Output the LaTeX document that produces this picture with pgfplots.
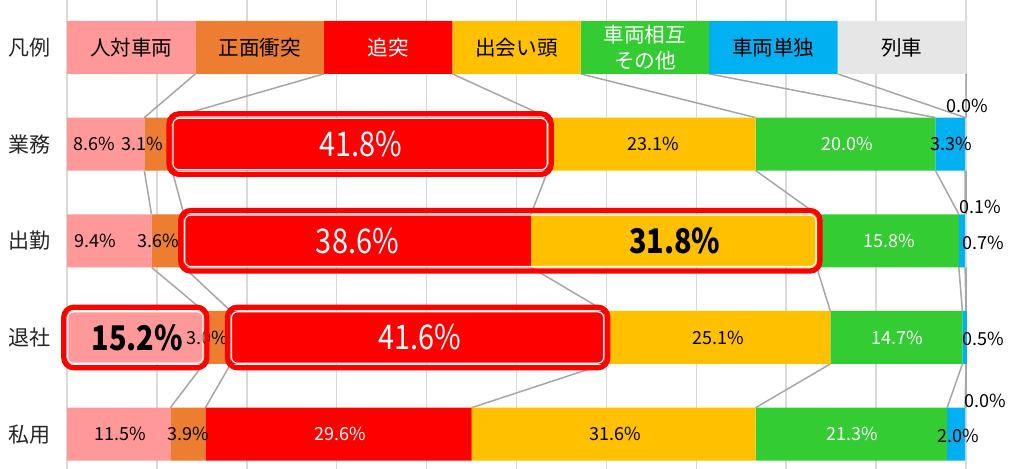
\documentclass[border=0pt]{standalone}
\usepackage{fontspec}
\setmainfont{Noto Sans CJK JP}
\usepackage{pgfplots}
\pgfplotsset{compat=1.18}
\definecolor{cPink}{HTML}{FF9999}
\definecolor{cOrange}{HTML}{ED7D31}
\definecolor{cRed}{HTML}{FF0000}
\definecolor{cYellow}{HTML}{FFC000}
\definecolor{cGreen}{HTML}{33CC33}
\definecolor{cBlue}{HTML}{00B0F0}
\definecolor{cGray}{HTML}{E6E6E6}
\definecolor{cGrid}{HTML}{D9D9D9}
\definecolor{cConn}{HTML}{A6A6A6}
\pgfplotsset{base/.style={
  at={(33.5pt,0pt)}, anchor=south west,
  scale only axis, width=449.5pt, height=234.5pt,
  xmin=0, xmax=100, ymin=-0.49, ymax=4.36, y dir=reverse,
  xtick={0,10,...,100}, xticklabels={}, ytick={0,1,2,3,4},
  major tick length=0pt, axis line style={draw=none},
  clip=false,
}}
\newcommand{\labnormal}{\fontsize{9}{10}\selectfont}
\newcommand{\lablarge}{\fontsize{17}{19}\selectfont}
\tikzset{big/.style={font=\lablarge, inner sep=0pt, xscale=0.85}}
\begin{document}
\begin{tikzpicture}
% background: grid, tick labels and connector lines
\begin{axis}[base,
  xmajorgrids, grid style={cGrid, line width=0.75pt},
  yticklabels={凡例,業務,出勤,退社,私用},
  yticklabel style={font=\fontsize{10.5}{12}\selectfont, text=black!85, anchor=center, xshift=-18.5pt},
  unbounded coords=jump,
]
\addplot[cConn, line width=0.75pt] coordinates {
 (14.2857,0.274) (8.6,0.726) (nan,nan)
 (28.5714,0.274) (11.7,0.726) (nan,nan)
 (42.8571,0.274) (53.5,0.726) (nan,nan)
 (57.1429,0.274) (76.6,0.726) (nan,nan)
 (71.4286,0.274) (96.6,0.726) (nan,nan)
 (85.7143,0.274) (99.9,0.726) (nan,nan)
 (100,0.274) (100,0.726)};
\addplot[cConn, line width=0.75pt] coordinates {
 (8.6,1.274) (9.4,1.726) (nan,nan)
 (11.7,1.274) (13.0,1.726) (nan,nan)
 (53.5,1.274) (51.6,1.726) (nan,nan)
 (76.6,1.274) (83.4,1.726) (nan,nan)
 (96.6,1.274) (99.2,1.726) (nan,nan)
 (99.9,1.274) (99.9,1.726) (nan,nan)
 (100,1.274) (100,1.726)};
\addplot[cConn, line width=0.75pt] coordinates {
 (9.4,2.274) (15.2,2.726) (nan,nan)
 (13.0,2.274) (18.2,2.726) (nan,nan)
 (51.6,2.274) (59.8,2.726) (nan,nan)
 (83.4,2.274) (84.9,2.726) (nan,nan)
 (99.2,2.274) (99.6,2.726) (nan,nan)
 (99.9,2.274) (100,2.726) (nan,nan)
 (100,2.274) (100,2.726)};
\addplot[cConn, line width=0.75pt] coordinates {
 (15.2,3.274) (11.5,3.726) (nan,nan)
 (18.2,3.274) (15.4,3.726) (nan,nan)
 (59.8,3.274) (45.0,3.726) (nan,nan)
 (84.9,3.274) (76.6,3.726) (nan,nan)
 (99.6,3.274) (97.9,3.726) (nan,nan)
 (100,3.274) (99.9,3.726) (nan,nan)
 (100,3.274) (100,3.726)};
\end{axis}
% bars
\begin{axis}[base, yticklabels={},
  xbar stacked, bar width=26.5pt,
]
\addplot[fill=cPink, draw=none] coordinates {(14.2857,0) (8.6,1) (9.4,2) (15.2,3) (11.5,4)};
\addplot[fill=cOrange, draw=none] coordinates {(14.2857,0) (3.1,1) (3.6,2) (3.0,3) (3.9,4)};
\addplot[fill=cRed, draw=none] coordinates {(14.2857,0) (41.8,1) (38.6,2) (41.6,3) (29.6,4)};
\addplot[fill=cYellow, draw=none] coordinates {(14.2857,0) (23.1,1) (31.8,2) (25.1,3) (31.6,4)};
\addplot[fill=cGreen, draw=none] coordinates {(14.2857,0) (20.0,1) (15.8,2) (14.7,3) (21.3,4)};
\addplot[fill=cBlue, draw=none] coordinates {(14.2857,0) (3.3,1) (0.7,2) (0.5,3) (2.0,4)};
\addplot[fill=cGray, draw=none] coordinates {(14.2857,0) (0.0,1) (0.1,2) (0.0,3) (0.0,4)};
\end{axis}
% labels and highlight boxes
\begin{axis}[base, yticklabels={}]
\node[text=black, font=\fontsize{10.3}{13}\selectfont, inner sep=0pt] at (axis cs:7.1429,0) {人対車両};
\node[text=black, font=\fontsize{10.3}{13}\selectfont, inner sep=0pt] at (axis cs:21.4286,0) {正面衝突};
\node[text=white, font=\fontsize{10.3}{13}\selectfont, inner sep=0pt] at (axis cs:35.7143,0) {追突};
\node[text=black, font=\fontsize{10.3}{13}\selectfont, inner sep=0pt] at (axis cs:50,0) {出会い頭};
\node[text=white, font=\fontsize{10.3}{13}\selectfont, inner sep=0pt, align=center] at (axis cs:64.2857,0) {車両相互\\その他};
\node[text=black, font=\fontsize{10.3}{13}\selectfont, inner sep=0pt] at (axis cs:78.5714,0) {車両単独};
\node[text=black, font=\fontsize{10.3}{13}\selectfont, inner sep=0pt] at (axis cs:92.8571,0) {列車};
% 業務
\node[text=black, font=\labnormal, inner sep=0pt] at (axis cs:3.0,1) {8.6\%};
\node[text=black, font=\labnormal, inner sep=0pt] at (axis cs:8.34,1) {3.1\%};
\node[text=white, big] at (axis cs:32.7,1) {41.8\%};
\node[text=black, font=\labnormal, inner sep=0pt] at (axis cs:65.2,1) {23.1\%};
\node[text=white, font=\labnormal, inner sep=0pt] at (axis cs:86.8,1) {20.0\%};
\node[text=black, font=\labnormal, inner sep=0pt] at (axis cs:98.4,1) {3.3\%};
\node[text=black, font=\labnormal, inner sep=0pt] at (axis cs:100.1,0.605) {0.0\%};
% 出勤
\node[text=black, font=\labnormal, inner sep=0pt] at (axis cs:3.1,2) {9.4\%};
\node[text=black, font=\labnormal, inner sep=0pt] at (axis cs:10.1,2) {3.6\%};
\node[text=white, big] at (axis cs:32.3,2) {38.6\%};
\node[text=black, big, font=\lablarge\bfseries] at (axis cs:67.6,2) {31.8\%};
\node[text=white, font=\labnormal, inner sep=0pt] at (axis cs:91.5,2) {15.8\%};
\node[text=black, font=\labnormal, inner sep=0pt] at (axis cs:101.6,1.649) {0.1\%};
\node[text=black, font=\labnormal, inner sep=0pt] at (axis cs:101.9,2.02) {0.7\%};
% 退社
\node[text=black, big, font=\lablarge\bfseries] at (axis cs:7.8,3) {15.2\%};
\node[text=black, font=\labnormal, inner sep=0pt] at (axis cs:15.6,3) {3.0\%};
\node[text=white, big] at (axis cs:39.2,3) {41.6\%};
\node[text=black, font=\labnormal, inner sep=0pt] at (axis cs:72.4,3) {25.1\%};
\node[text=white, font=\labnormal, inner sep=0pt] at (axis cs:92.4,3) {14.7\%};
\node[text=black, font=\labnormal, inner sep=0pt] at (axis cs:101.9,3.01) {0.5\%};
% 私用
\node[text=black, font=\labnormal, inner sep=0pt] at (axis cs:5.9,4) {11.5\%};
\node[text=black, font=\labnormal, inner sep=0pt] at (axis cs:13.5,4) {3.9\%};
\node[text=white, font=\labnormal, inner sep=0pt] at (axis cs:30.4,4) {29.6\%};
\node[text=black, font=\labnormal, inner sep=0pt] at (axis cs:61.0,4) {31.6\%};
\node[text=white, font=\labnormal, inner sep=0pt] at (axis cs:87.4,4) {21.3\%};
\node[text=black, font=\labnormal, inner sep=0pt] at (axis cs:102.1,3.656) {0.0\%};
\node[text=black, font=\labnormal, inner sep=0pt] at (axis cs:99.1,4.02) {2.0\%};
% highlight boxes
\draw[cRed, line width=2.6pt, rounded corners=5pt] ([xshift=-1.6pt,yshift=1.9pt]axis cs:11.7,0.726) rectangle ([xshift=1.6pt,yshift=-1.9pt]axis cs:53.5,1.274);
\draw[white, line width=0.6pt, rounded corners=3pt] ([xshift=0.4pt,yshift=-0.4pt]axis cs:11.7,0.726) rectangle ([xshift=-0.4pt,yshift=0.4pt]axis cs:53.5,1.274);
\draw[cRed, line width=2.6pt, rounded corners=5pt] ([xshift=-1.6pt,yshift=1.9pt]axis cs:13.0,1.726) rectangle ([xshift=1.6pt,yshift=-1.9pt]axis cs:83.4,2.274);
\draw[white, line width=0.6pt, rounded corners=3pt] ([xshift=0.4pt,yshift=-0.4pt]axis cs:13.0,1.726) rectangle ([xshift=-0.4pt,yshift=0.4pt]axis cs:83.4,2.274);
\draw[cRed, line width=2.6pt, rounded corners=5pt] ([xshift=-1.6pt,yshift=1.9pt]axis cs:0,2.726) rectangle ([xshift=1.6pt,yshift=-1.9pt]axis cs:15.2,3.274);
\draw[white, line width=0.6pt, rounded corners=3pt] ([xshift=0.4pt,yshift=-0.4pt]axis cs:0,2.726) rectangle ([xshift=-0.4pt,yshift=0.4pt]axis cs:15.2,3.274);
\draw[cRed, line width=2.6pt, rounded corners=5pt] ([xshift=-1.6pt,yshift=1.9pt]axis cs:18.2,2.726) rectangle ([xshift=1.6pt,yshift=-1.9pt]axis cs:59.8,3.274);
\draw[white, line width=0.6pt, rounded corners=3pt] ([xshift=0.4pt,yshift=-0.4pt]axis cs:18.2,2.726) rectangle ([xshift=-0.4pt,yshift=0.4pt]axis cs:59.8,3.274);
\end{axis}
\pgfresetboundingbox
\path[use as bounding box] (0,0) rectangle (505pt,234.5pt);
\end{tikzpicture}
\end{document}
